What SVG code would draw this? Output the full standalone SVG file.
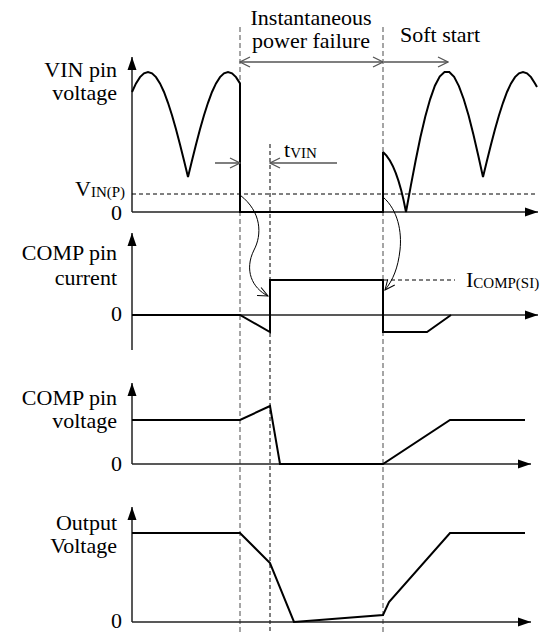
<svg xmlns="http://www.w3.org/2000/svg" width="550" height="632" viewBox="0 0 550 632">
<style>
text{font-family:'Liberation Serif','DejaVu Serif',serif;font-size:22px;fill:#000}
.sub{font-size:15px}
.axis{stroke:#222;stroke-width:1.5;fill:none}
.wave{stroke:#000;stroke-width:2;fill:none;stroke-linejoin:miter}
.gdash{stroke:#888;stroke-width:1.5;stroke-dasharray:5,3;fill:none}
.bdash{stroke:#000;stroke-width:1;stroke-dasharray:4,3;fill:none}
.ann{stroke:#555;stroke-width:1.5;fill:none}
.curve{stroke:#000;stroke-width:1;fill:none}
</style>
<defs>
<marker id="ax" markerUnits="userSpaceOnUse" markerWidth="14" markerHeight="10" refX="13" refY="5" orient="auto">
<path d="M0,0.5 L13,5 L0,9.5 z" fill="#000"/>
</marker>
<marker id="chev" markerUnits="userSpaceOnUse" markerWidth="12" markerHeight="12" refX="11" refY="6" orient="auto">
<path d="M1,1 L11,6 L1,11" fill="none" stroke="#555" stroke-width="1.3"/>
</marker>
<marker id="chevs" markerUnits="userSpaceOnUse" markerWidth="12" markerHeight="12" refX="11" refY="6" orient="auto-start-reverse">
<path d="M1,1 L11,6 L1,11" fill="none" stroke="#555" stroke-width="1.3"/>
</marker>
<marker id="chevk" markerUnits="userSpaceOnUse" markerWidth="12" markerHeight="12" refX="11" refY="6" orient="auto">
<path d="M1,1.5 L11,6 L1,10.5" fill="none" stroke="#000" stroke-width="1"/>
</marker>
</defs>

<g id="guides">
<line class="gdash" x1="240" y1="27" x2="240" y2="632"/>
<line class="gdash" x1="383" y1="27" x2="383" y2="632"/>
<line class="bdash" x1="270" y1="144" x2="270" y2="632"/>
</g>

<g id="header">
<text x="311" y="25" text-anchor="middle">Instantaneous</text>
<text x="311" y="48" text-anchor="middle">power failure</text>
<line class="ann" x1="240" y1="62" x2="383" y2="62" marker-start="url(#chevs)" marker-end="url(#chevs)"/>
<text x="400" y="42">Soft start</text>
<line class="ann" x1="384" y1="62" x2="448" y2="62" marker-end="url(#chev)"/>
</g>

<g id="panel-vin">
<text x="117" y="77" text-anchor="end">VIN pin</text>
<text x="117" y="100" text-anchor="end">voltage</text>
<text x="75" y="196">V<tspan class="sub" dy="1">IN(P)</tspan></text>
<text x="122" y="220" text-anchor="end">0</text>
<line class="axis" x1="132" y1="212" x2="132" y2="57" marker-end="url(#ax)"/>
<line class="axis" x1="132" y1="212" x2="538" y2="212" marker-end="url(#ax)"/>
<line class="bdash" x1="132" y1="194" x2="537" y2="194" stroke-dasharray="5,4"/>
<polyline class="wave" points="132,92 136,83.4 140,77.1 144,73.3 148,72 152,73.3 156,77.1 160,83.4 164,92 168,102.8 172,115.3 176,129.3 180,144.6 184,160.6 188,177 192,160.6 196,144.6 200,129.3 204,115.3 208,102.8 212,92 216,83.4 220,77.1 224,73.3 228,72 232,73.3 236,77.1 240,83.4 240,212 383,212 383,152"/>
<path class="wave" d="M383,152 Q397,164 406,212"/>
<polyline class="wave" points="406,212 410.8,185.9 415.6,160.7 420.4,137.3 425.3,116.6 430.1,99.3 434.9,85.7 439.7,76.5 444.5,72 449.3,72.1 454.1,76.9 458.9,86.1 463.75,99.2 468.6,115.5 473.4,134.5 478.2,155.3 483,177 487,160.6 491,144.6 495,129.3 499,115.3 503,102.8 507,92 511,83.4 515,77.1 519,73.3 523,72 527,73.3 531,77.1 535,83.4 537,87"/>
<line class="ann" x1="215" y1="163" x2="240" y2="163" marker-end="url(#chev)"/>
<line class="ann" x1="337" y1="163" x2="270" y2="163" marker-end="url(#chev)"/>
<text x="284" y="157">t<tspan class="sub" dy="1">VIN</tspan></text>
</g>

<g id="panel-comp-current">
<text x="117" y="260" text-anchor="end">COMP pin</text>
<text x="117" y="285" text-anchor="end">current</text>
<text x="122" y="321" text-anchor="end">0</text>
<line class="axis" x1="132" y1="350" x2="132" y2="233" marker-end="url(#ax)"/>
<line class="axis" x1="132" y1="315" x2="538" y2="315" marker-end="url(#ax)"/>
<polyline class="wave" points="132,315 240,315 270,332 270,280 383,280 383,332 427,332 451,315"/>
<line class="bdash" x1="384" y1="280" x2="455" y2="280"/>
<text x="466" y="287">I<tspan class="sub" dy="1">COMP(SI)</tspan></text>
</g>

<g id="connectors">
<path class="curve" d="M240,195 C262,212 262,235 254,250 C244,270 252,288 268,296" marker-end="url(#chevk)"/>
<path class="curve" d="M383,197 C398,210 402,232 400,250 C398,268 393,280 385,290" marker-end="url(#chevk)"/>
</g>

<g id="panel-comp-voltage">
<text x="117" y="405" text-anchor="end">COMP pin</text>
<text x="117" y="428" text-anchor="end">voltage</text>
<text x="122" y="471" text-anchor="end">0</text>
<line class="axis" x1="132" y1="464" x2="132" y2="383" marker-end="url(#ax)"/>
<line class="axis" x1="132" y1="464" x2="531" y2="464" marker-end="url(#ax)"/>
<polyline class="wave" points="132,420 240,420 270,406 280,464 383,464 450,420 525,420"/>
</g>

<g id="panel-output">
<text x="117" y="530" text-anchor="end">Output</text>
<text x="117" y="553" text-anchor="end">Voltage</text>
<text x="122" y="628" text-anchor="end">0</text>
<line class="axis" x1="132" y1="622" x2="132" y2="507" marker-end="url(#ax)"/>
<line class="axis" x1="132" y1="622" x2="531" y2="622" marker-end="url(#ax)"/>
<polyline class="wave" points="132,533 240,533 270,563 294,622 383,615 389,602 450,533 525,533"/>
</g>
</svg>
